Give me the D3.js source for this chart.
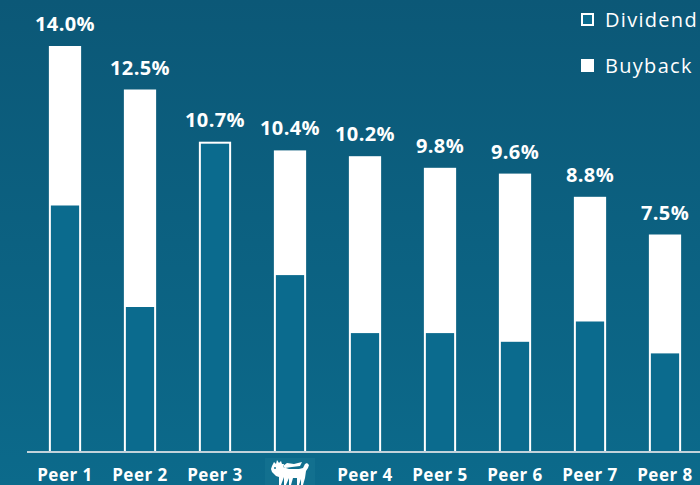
<!DOCTYPE html>
<html>
<head>
<meta charset="utf-8">
<script src="https://cdn.jsdelivr.net/npm/d3@7"></script>
<style>
  html, body { margin: 0; padding: 0; }
  body { width: 700px; height: 485px; overflow: hidden; }
  svg { display: block; font-family: "Open Sans", sans-serif; }
</style>
</head>
<body>
<svg id="chart" width="700" height="485"></svg>
<script>
var categories = ["Peer 1", "Peer 2", "Peer 3", "eni", "Peer 4", "Peer 5", "Peer 6", "Peer 7", "Peer 8"];
var totals = [14.0, 12.5, 10.7, 10.4, 10.2, 9.8, 9.6, 8.8, 7.5];
var dividend = [8.5, 5.0, 10.7, 6.1, 4.1, 4.1, 3.8, 4.5, 3.4];
var legendLabels = ["Dividend", "Buyback"];

var svg = d3.select("#chart");

// background gradient
var defs = svg.append("defs");
var grad = defs.append("linearGradient").attr("id", "bg")
    .attr("x1", 0).attr("y1", 0).attr("x2", 0).attr("y2", 1);
grad.append("stop").attr("offset", "0%").attr("stop-color", "#0c5877");
grad.append("stop").attr("offset", "100%").attr("stop-color", "#0c6a8b");
svg.append("rect").attr("width", 700).attr("height", 485).attr("fill", "url(#bg)");

var x = d3.scaleBand().domain(categories).range([27.5, 702.5]).paddingInner(0.57).paddingOuter(0.285);
var y = d3.scaleLinear().domain([0, 14]).range([452, 46]);

var bars = svg.append("g").selectAll("g").data(categories).join("g");

// buyback (white, full height)
bars.append("rect")
    .attr("x", d => x(d))
    .attr("width", x.bandwidth())
    .attr("y", (d, i) => y(totals[i]))
    .attr("height", (d, i) => y(0) - y(totals[i]))
    .attr("fill", "#ffffff");

// dividend (teal inside white outline)
bars.append("rect")
    .attr("x", d => x(d) + 2)
    .attr("width", x.bandwidth() - 4)
    .attr("y", (d, i) => y(dividend[i]) + (dividend[i] === totals[i] ? 2 : 0))
    .attr("height", (d, i) => y(0) - y(dividend[i]) - (dividend[i] === totals[i] ? 2 : 0))
    .attr("fill", "#0b6b8e");

// value labels
bars.append("text")
    .attr("x", d => x(d) + x.bandwidth() / 2)
    .attr("y", (d, i) => y(totals[i]) - 15)
    .attr("text-anchor", "middle")
    .attr("fill", "#ffffff")
    .attr("font-weight", 700)
    .attr("font-size", "20px")
    .attr("letter-spacing", "0.4px")
    .text((d, i) => totals[i].toFixed(1) + "%");

// baseline
svg.append("line")
    .attr("x1", 27).attr("x2", 700)
    .attr("y1", 452).attr("y2", 452)
    .attr("stroke", "#c3d3db").attr("stroke-width", 2);

// category labels
svg.append("g").selectAll("text").data(categories.filter(d => d !== "eni")).join("text")
    .attr("x", d => x(d) + x.bandwidth() / 2)
    .attr("y", 481)
    .attr("text-anchor", "middle")
    .attr("fill", "#ffffff")
    .attr("font-weight", 700)
    .attr("font-size", "17px")
    .attr("letter-spacing", "0.5px")
    .text(d => d);

// eni logo (six-legged dog, simplified)
var lx = x("eni") + x.bandwidth() / 2;
var logo = svg.append("g").attr("transform", "translate(" + (lx - 25) + ",458)");
logo.append("rect").attr("width", 50).attr("height", 27).attr("fill", "#12708f");
logo.append("path")
    .attr("fill", "#ffffff")
    .attr("d", "M7,8 L9,4 L11,6 L12,2 L14,5 L16,3 L17,6 L19,6 L18,9 L24,11 L34,11 L38,10 L40,6 L42,5 L44,7 L43,10 L41,13 L40,20 L38,27 L36,27 L36,21 L34,27 L32,27 L32,20 L28,20 L26,27 L24,27 L24,20 L21,27 L19,27 L19,19 L16,27 L14,27 L14,19 L11,18 L9,16 L7,14 L6,11 Z");
logo.append("path")
    .attr("fill", "#ffffff")
    .attr("d", "M18,8 L22,5 L29,6 L37,4 L35,8 L27,9 L20,10 Z");
logo.append("circle").attr("cx", 10).attr("cy", 10).attr("r", 1).attr("fill", "#12708f");

// legend
var legend = svg.append("g").selectAll("g").data(legendLabels).join("g")
    .attr("transform", (d, i) => "translate(581," + (13 + i * 46) + ")");
legend.append("rect")
    .attr("x", (d, i) => i === 0 ? 1 : 0)
    .attr("y", (d, i) => i === 0 ? 1 : 0)
    .attr("width", (d, i) => i === 0 ? 11 : 13)
    .attr("height", (d, i) => i === 0 ? 11 : 13)
    .attr("fill", (d, i) => i === 0 ? "#0b6b8e" : "#ffffff")
    .attr("stroke", (d, i) => i === 0 ? "#ffffff" : "none")
    .attr("stroke-width", 2);
legend.append("text")
    .attr("x", 24)
    .attr("y", 14)
    .attr("fill", "#ffffff")
    .attr("font-size", "20px")
    .attr("font-weight", 400)
    .attr("letter-spacing", "1.3px")
    .text(d => d);
</script>
</body>
</html>
